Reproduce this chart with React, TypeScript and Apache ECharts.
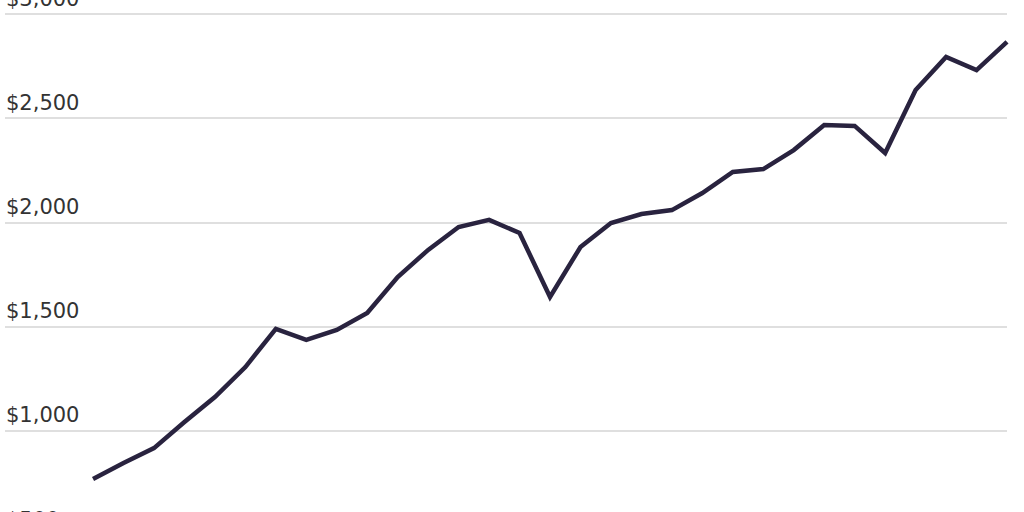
import React, { useEffect, useRef } from "react";
import * as echarts from "echarts";

const years: number[] = [
  1994, 1995, 1996, 1997, 1998, 1999, 2000, 2001, 2002, 2003, 2004,
  2005, 2006, 2007, 2008, 2009, 2010, 2011, 2012, 2013, 2014, 2015,
  2016, 2017, 2018, 2019, 2020, 2021, 2022, 2023, 2024,
];

const values: number[] = [
  769, 846, 917, 1042, 1162, 1306, 1489, 1436, 1484, 1565, 1738,
  1868, 1978, 2012, 1949, 1642, 1882, 1997, 2040, 2059, 2141, 2242,
  2256, 2347, 2467, 2463, 2333, 2635, 2794, 2731, 2866,
];

const yTicks: number[] = [500, 1000, 1500, 2000, 2500, 3000];

const fmt = (v: number) => "$" + v.toLocaleString("en-US");

export default function App() {
  const ref = useRef<HTMLDivElement>(null);
  useEffect(() => {
    if (!ref.current) return;
    const chart = echarts.init(ref.current, undefined, { renderer: "svg" });
    chart.setOption({
      animation: false,
      backgroundColor: "#ffffff",
      grid: {
        left: 5,
        right: 17,
        top: 14,
        height: 521,
        containLabel: false,
        outerBoundsMode: "none",
      },
      xAxis: {
        type: "value",
        min: 1991.11,
        max: 2024,
        show: false,
        splitLine: { show: false },
      },
      yAxis: {
        type: "value",
        min: yTicks[0],
        max: yTicks[yTicks.length - 1],
        interval: 500,
        axisLine: { show: false },
        axisTick: { show: false },
        splitLine: { show: true, lineStyle: { color: "#d4d4d4", width: 1.5 } },
        axisLabel: {
          inside: true,
          margin: 1,
          verticalAlign: "bottom",
          padding: [0, 0, 5, 0],
          fontFamily: "DejaVu Sans",
          fontSize: 21,
          color: "#333333",
          formatter: (v: number) => fmt(v),
        },
      },
      series: [
        {
          type: "line",
          data: years.map((y, i) => [y, values[i]]),
          showSymbol: false,
          symbol: "none",
          lineStyle: { color: "#29233f", width: 4.5, join: "miter" },
          z: 5,
        },
      ],
    });
    return () => chart.dispose();
  }, []);
  return (
    <div
      style={{
        position: "absolute",
        left: 0,
        top: 0,
        width: 1024,
        height: 512,
        overflow: "hidden",
        background: "#fff",
      }}
    >
      <div ref={ref} style={{ width: 1024, height: 560 }} />
    </div>
  );
}
